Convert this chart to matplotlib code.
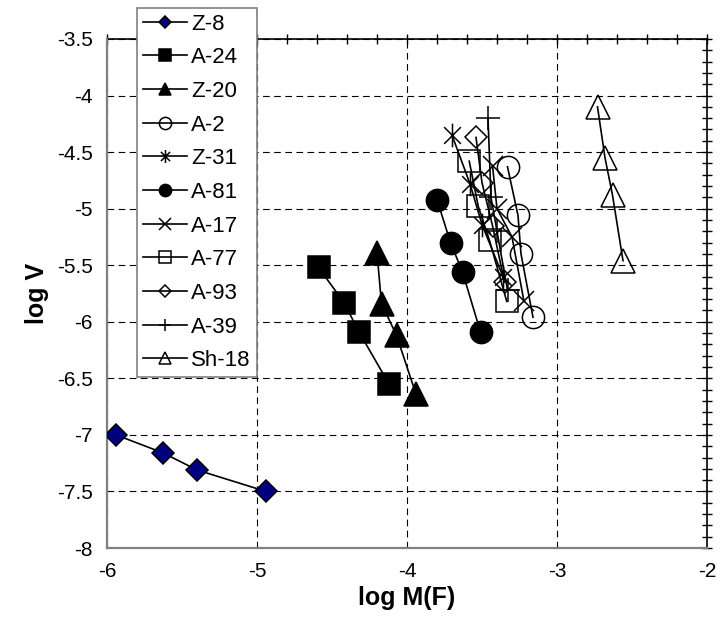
import numpy as np
import matplotlib.pyplot as plt
from matplotlib.path import Path
from matplotlib.ticker import MultipleLocator

plt.rcParams['font.family'] = ['Liberation Sans', 'DejaVu Sans']

# series values: x = log M(F), y = log V
z8_x = [-5.94, -5.625, -5.40, -4.94]
z8_y = [-7.00, -7.16, -7.31, -7.50]
a24_x = [-4.59, -4.42, -4.32, -4.12]
a24_y = [-5.52, -5.83, -6.09, -6.55]
z20_x = [-4.20, -4.17, -4.07, -3.94]
z20_y = [-5.39, -5.84, -6.12, -6.64]
a2_x = [-3.33, -3.26, -3.24, -3.16]
a2_y = [-4.63, -5.06, -5.40, -5.96]
z31_x = [-3.70, -3.58, -3.50, -3.36]
z31_y = [-4.35, -4.78, -5.14, -5.60]
a81_x = [-3.80, -3.71, -3.63, -3.51]
a81_y = [-4.92, -5.30, -5.56, -6.09]
a17_x = [-3.43, -3.40, -3.30, -3.22]
a17_y = [-4.62, -5.00, -5.25, -5.82]
a77_x = [-3.585, -3.525, -3.45, -3.335]
a77_y = [-4.58, -4.98, -5.28, -5.82]
a93_x = [-3.54, -3.50, -3.43, -3.35]
a93_y = [-4.37, -4.77, -5.15, -5.65]
a39_x = [-3.46, -3.44, -3.40, -3.33]
a39_y = [-4.20, -4.90, -5.20, -5.72]
sh18_x = [-2.73, -2.68, -2.63, -2.56]
sh18_y = [-4.10, -4.55, -4.88, -5.46]

x_ticks = [-6, -5, -4, -3, -2]
y_ticks = [-8, -7.5, -7, -6.5, -6, -5.5, -5, -4.5, -4, -3.5]

# excel-like asterisk: vertical bar plus an x
d = 0.7071
asterisk = Path([(0, -1), (0, 1), (-d, -d), (d, d), (-d, d), (d, -d)],
                [Path.MOVETO, Path.LINETO, Path.MOVETO, Path.LINETO,
                 Path.MOVETO, Path.LINETO])

series = [
    ("Z-8", z8_x, z8_y, dict(marker='D', ms=11, mfc='#000080')),
    ("A-24", a24_x, a24_y, dict(marker='s', ms=16, mfc='black')),
    ("Z-20", z20_x, z20_y, dict(marker='^', ms=17, mfc='black')),
    ("A-2", a2_x, a2_y, dict(marker='o', ms=16, mfc='none')),
    ("Z-31", z31_x, z31_y, dict(marker=asterisk, ms=17, mfc='none')),
    ("A-81", a81_x, a81_y, dict(marker='o', ms=16, mfc='black')),
    ("A-17", a17_x, a17_y, dict(marker='x', ms=15, mfc='none')),
    ("A-77", a77_x, a77_y, dict(marker='s', ms=16, mfc='none')),
    ("A-93", a93_x, a93_y, dict(marker='D', ms=11, mfc='none')),
    ("A-39", a39_x, a39_y, dict(marker='+', ms=17, mfc='none')),
    ("Sh-18", sh18_x, sh18_y, dict(marker='^', ms=17, mfc='none')),
]

fig = plt.figure(figsize=(7.2, 6.28), dpi=100)
ax = fig.add_axes([107 / 720, 80 / 628, 600 / 720, 509 / 628])

for name, xs, ys, style in series:
    ax.plot(xs, ys, color='black', lw=1.2, mec='black', mew=1.1,
            label=name, zorder=3, **style)

ax.set_xlim(-6, -2)
ax.set_ylim(-8, -3.5)
ax.set_xticks(x_ticks)
ax.set_yticks(y_ticks)
ax.set_xticklabels([f"{t:g}" for t in x_ticks])
ax.set_yticklabels([f"{t:g}" for t in y_ticks])
ax.tick_params(length=0, labelsize=15)
ax.tick_params(axis='x', pad=10)
ax.tick_params(axis='y', pad=10)

ax.grid(True, color='black', lw=0.8, dashes=(6, 4), zorder=0)
ax.set_axisbelow(True)

for side in ['left', 'bottom']:
    ax.spines[side].set_color('#808080')
    ax.spines[side].set_linewidth(1.6)
for side in ['top', 'right']:
    ax.spines[side].set_visible(False)

# secondary axes on top and right with crossing ticks
top = ax.secondary_xaxis('top')
top.xaxis.set_major_locator(MultipleLocator(0.2))
top.tick_params(direction='inout', length=7, width=1, labeltop=False)
top.spines['top'].set_linewidth(1.2)
right = ax.secondary_yaxis('right')
right.yaxis.set_major_locator(MultipleLocator(0.1))
right.tick_params(direction='inout', length=7, width=1, labelright=False)
right.spines['right'].set_linewidth(1.2)

ax.set_xlabel("log M(F)", fontsize=18, fontweight='bold', labelpad=4)
ax.set_ylabel("log V", fontsize=18, fontweight='bold', labelpad=6)

leg = ax.legend(loc='upper left', bbox_to_anchor=(0.05, 1.061),
                borderaxespad=0, fontsize=16, markerscale=0.55,
                handlelength=2.0, handletextpad=0.2, labelspacing=0.57,
                borderpad=0.25, fancybox=False, framealpha=1)
leg.get_frame().set_edgecolor('#808080')
leg.get_frame().set_linewidth(1.2)
leg.set_zorder(5)

fig.savefig("out.png", dpi=100)
